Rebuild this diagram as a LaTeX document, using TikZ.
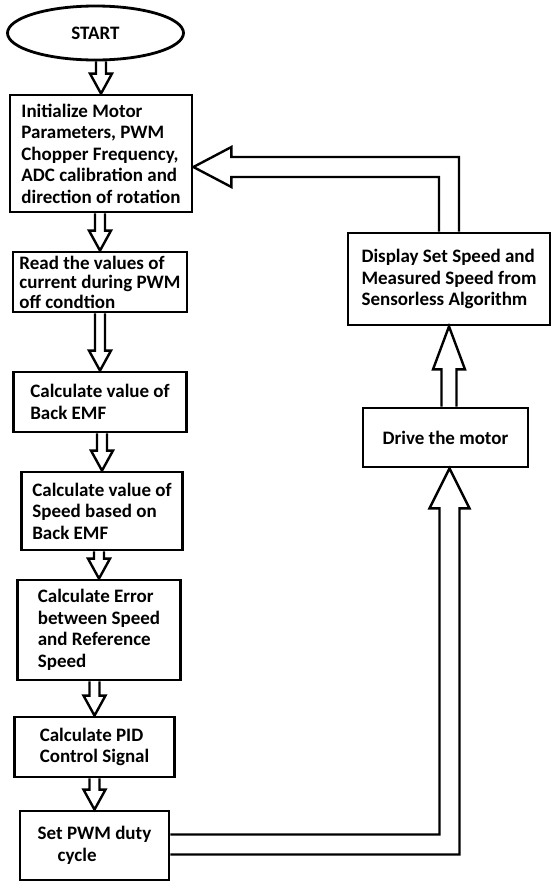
\documentclass[tikz,border=0pt]{standalone}
\usepackage{fontspec}
\setmainfont{Carlito}
\usetikzlibrary{shapes,calc}
\tikzset{basic/.style={draw,line width=2.8pt,font=\bfseries\fontsize{19}{21.5}\selectfont,align=left,inner sep=2pt}}
\tikzset{stepbox/.style={basic,rectangle}}
\tikzset{startnode/.style={basic,ellipse,inner sep=0pt}}
\tikzset{fat/.style={line width=2.4pt,line join=miter}}

% hollow arrow straight down from #1 to #2
\newcommand{\fatdown}[2]{%
  \draw[fat] let \p1=(#1.south), \p2=(#2.north) in
    (\x2-5pt,\y1) -- (\x2-5pt,\y2+20pt) -- (\x2-11pt,\y2+20pt) -- (\x2,\y2)
    -- (\x2+11pt,\y2+20pt) -- (\x2+5pt,\y2+20pt) -- (\x2+5pt,\y1);}

\begin{document}
\begin{tikzpicture}[x=1pt,y=-1pt]
    \useasboundingbox (0,0) rectangle (552,881);

    \node[startnode,minimum width=176pt,minimum height=54pt] (start) at (95.5,33) {START};
    \node[stepbox,below of=start,node distance=120.5pt,xshift=5.5pt,minimum width=182pt,minimum height=117pt] (b1)
        {Initialize Motor\\Parameters, PWM\\Chopper Frequency,\\ADC calibration and\\direction of rotation};
    \node[stepbox,below of=b1,node distance=128.5pt,xshift=-1pt,minimum width=174pt,minimum height=60pt,
        inner ysep=0pt,font=\bfseries\fontsize{19}{19.5}\selectfont] (b2)
        {Read the values of\\current during PWM\\off condtion};
    \node[stepbox,below of=b2,node distance=120pt,minimum width=173pt,minimum height=60pt] (b3)
        {Calculate value of\\Back EMF};
    \node[stepbox,below of=b3,node distance=109pt,xshift=2pt,minimum width=161pt,minimum height=78pt] (b4)
        {Calculate value of\\Speed based on\\Back EMF};
    \node[stepbox,below of=b4,node distance=119pt,xshift=-3pt,minimum width=163pt,minimum height=100pt] (b5)
        {Calculate Error\\between Speed\\and Reference\\Speed};
    \node[stepbox,below of=b5,node distance=117pt,xshift=-4.5pt,minimum width=160pt,minimum height=60pt] (b6)
        {Calculate PID\\Control Signal};
    \node[stepbox,below of=b6,node distance=98.5pt,minimum width=149pt,minimum height=69pt] (b7)
        {Set PWM duty\\\hspace*{20pt}cycle};

    \node[stepbox,minimum width=202pt,minimum height=92pt] (disp) at (449,279)
        {Display Set Speed and\\Measured Speed from\\Sensorless Algorithm};
    \node[stepbox,below of=disp,node distance=158.5pt,xshift=-3.5pt,minimum width=165pt,minimum height=59pt] (drive)
        {Drive the motor};

    \fatdown{start}{b1}
    \fatdown{b1}{b2}
    \fatdown{b2}{b3}
    \fatdown{b3}{b4}
    \fatdown{b4}{b5}
    \fatdown{b5}{b6}
    \fatdown{b6}{b7}

    % duty cycle up to the motor
    \draw[fat] let \p1=(b7.east), \p2=(drive.south) in
        (\x1,\y1+11pt) -- (\x2-6pt,\y1+11pt) -- (\x2-6pt,\y2-40pt) -- (\x2-16pt,\y2-40pt) -- (\x2+4pt,\y2)
        -- (\x2+24pt,\y2-40pt) -- (\x2+14pt,\y2-40pt) -- (\x2+14pt,\y1-9pt) -- (\x1,\y1-9pt);
    \draw[fat] let \p1=(drive.north), \p2=(disp.south) in
        (\x2-7.5pt,\y1) -- (\x2-7.5pt,\y2-43pt) -- (\x2-16pt,\y2-43pt) -- (\x2,\y2)
        -- (\x2+16pt,\y2-43pt) -- (\x2+7.5pt,\y2-43pt) -- (\x2+7.5pt,\y1);
    % back to the start of the loop
    \draw[fat] let \p1=(disp.north), \p2=(b1.east) in
        (\x1-10pt,\y1) -- (\x1-10pt,\y2-23.5pt) -- (\x2+38pt,\y2-23.5pt) -- (\x2+38pt,\y2-33.5pt) -- (\x2,\y2-13.5pt)
        -- (\x2+38pt,\y2+6.5pt) -- (\x2+38pt,\y2-3.5pt) -- (\x1+10pt,\y2-3.5pt) -- (\x1+10pt,\y1);
\end{tikzpicture}
\end{document}
